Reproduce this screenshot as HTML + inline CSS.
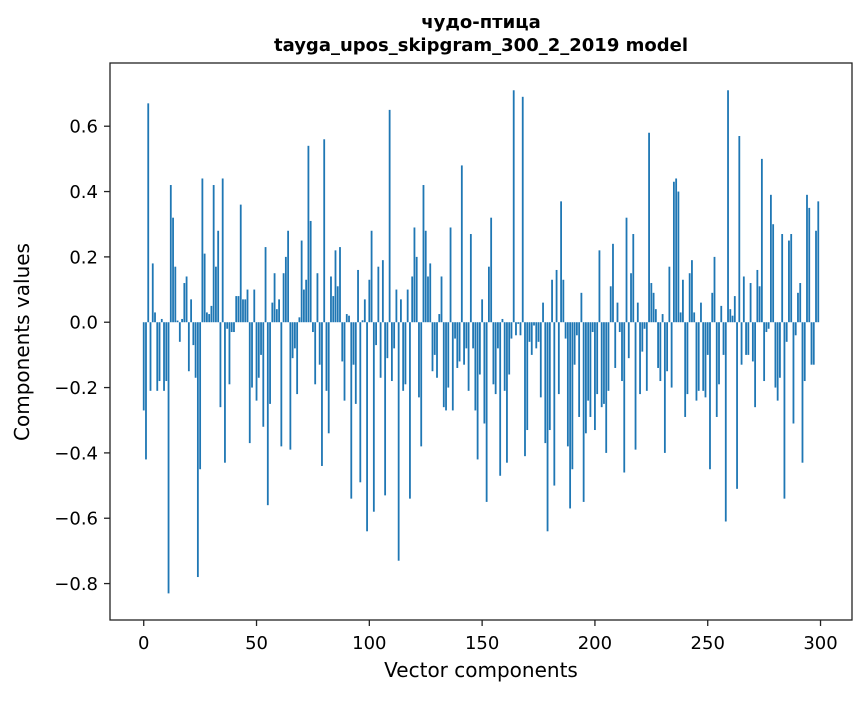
<!DOCTYPE html>
<html><head><meta charset="utf-8"><style>
body{margin:0;background:#fff}
svg{font-family:"DejaVu Sans","Liberation Sans",sans-serif}
</style></head><body>
<svg id="chart" width="867" height="696" viewBox="0 0 867 696" xmlns="http://www.w3.org/2000/svg">
<rect width="867" height="696" fill="#fff"/>
<text x="481" y="28" text-anchor="middle" font-size="18" font-weight="bold">чудо-птица</text>
<text x="481" y="51" text-anchor="middle" font-size="18" font-weight="bold">tayga_upos_skipgram_300_2_2019 model</text>
<g id="bars"></g>
<rect x="110" y="63" width="742" height="557" fill="none" stroke="#222" stroke-width="1.3"/>
<g id="xticks"></g>
<g id="yticks"></g>
<text x="481" y="677" text-anchor="middle" font-size="20">Vector components</text>
<text transform="translate(29,342) rotate(-90)" text-anchor="middle" font-size="20">Components values</text>
</svg>
<script>
const values = [
-0.27,-0.42,0.67,-0.21,0.18,0.03,-0.21,-0.18,0.01,-0.21,
-0.18,-0.83,0.42,0.32,0.17,0.005,-0.06,0.01,0.12,0.14,
-0.15,0.07,-0.07,-0.17,-0.78,-0.45,0.44,0.21,0.03,0.025,
0.05,0.42,0.17,0.28,-0.26,0.44,-0.43,-0.02,-0.19,-0.03,
-0.03,0.08,0.08,0.36,0.07,0.07,0.10,-0.37,-0.20,0.10,
-0.24,-0.17,-0.10,-0.32,0.23,-0.56,-0.25,0.06,0.15,0.04,
0.07,-0.38,0.15,0.20,0.28,-0.39,-0.11,-0.08,-0.22,0.015,
0.25,0.10,0.13,0.54,0.31,-0.03,-0.19,0.15,-0.13,-0.44,
0.56,-0.21,-0.34,0.14,0.08,0.22,0.11,0.23,-0.12,-0.24,
0.025,0.02,-0.54,-0.13,-0.25,0.16,-0.49,0.006,0.07,-0.64,
0.13,0.28,-0.58,-0.07,0.17,-0.17,0.19,-0.53,-0.11,0.65,
-0.18,-0.08,0.10,-0.73,0.07,-0.21,-0.19,0.10,-0.54,0.14,
0.29,0.20,-0.23,-0.38,0.42,0.28,0.14,0.18,-0.15,-0.10,
-0.17,0.025,0.14,-0.26,-0.27,-0.20,0.29,-0.27,-0.05,-0.14,
-0.12,0.48,-0.13,-0.08,-0.21,0.27,-0.08,-0.27,-0.42,-0.16,
0.07,-0.31,-0.55,0.17,0.32,-0.19,-0.22,-0.08,-0.47,0.01,
-0.21,-0.43,-0.16,-0.05,0.71,-0.04,-0.005,-0.04,0.69,-0.41,
-0.33,-0.06,-0.10,-0.01,-0.08,-0.06,-0.23,0.06,-0.37,-0.64,
-0.33,0.13,-0.50,0.16,-0.22,0.37,0.13,-0.05,-0.38,-0.57,
-0.45,-0.13,-0.04,-0.29,0.09,-0.55,-0.34,-0.24,-0.29,-0.03,
-0.33,-0.22,0.22,-0.26,-0.25,-0.40,-0.21,0.11,0.24,-0.14,
0.06,-0.03,-0.18,-0.46,0.32,-0.11,0.15,0.27,-0.39,0.06,
-0.22,-0.09,-0.02,-0.21,0.58,0.12,0.09,0.04,-0.14,-0.18,
0.025,-0.40,-0.15,0.17,-0.20,0.43,0.44,0.40,0.03,0.13,
-0.29,-0.22,0.15,0.19,0.03,-0.24,-0.21,0.06,-0.21,-0.23,
-0.10,-0.45,0.09,0.20,-0.29,-0.19,0.05,-0.10,-0.61,0.71,
0.04,0.02,0.08,-0.51,0.57,-0.13,0.14,-0.10,-0.10,0.12,
-0.12,-0.26,0.16,0.11,0.50,-0.18,-0.03,-0.02,0.39,0.30,
-0.20,-0.24,-0.17,0.27,-0.54,-0.06,0.25,0.27,-0.31,-0.04,
0.09,0.12,-0.43,-0.18,0.39,0.35,-0.13,-0.13,0.28,0.37];
const xTicks = [0,50,100,150,200,250,300];
const yTicks = [-0.8,-0.6,-0.4,-0.2,0.0,0.2,0.4,0.6];
const yTickLabels = ["\u22120.8","\u22120.6","\u22120.4","\u22120.2","0.0","0.2","0.4","0.6"];

const NS="http://www.w3.org/2000/svg";
const L=110,R=852,T=63,B=620;
const xMin=-14.95,xMax=313.95,yMin=-0.9115,yMax=0.7935;
const xs=v=>L+(v-xMin)/(xMax-xMin)*(R-L);
const ys=v=>T+(yMax-v)/(yMax-yMin)*(B-T);
const bars=document.getElementById('bars');
values.forEach((v,i)=>{
  const r=document.createElementNS(NS,'rect');
  const x0=xs(i-0.4),x1=xs(i+0.4);
  const y0=ys(Math.max(v,0)),y1=ys(Math.min(v,0));
  r.setAttribute('x',x0);r.setAttribute('width',x1-x0);
  r.setAttribute('y',y0);r.setAttribute('height',Math.max(y1-y0,0.3));
  r.setAttribute('fill','#1f77b4');
  
  
  bars.appendChild(r);
});
const xg=document.getElementById('xticks');
xTicks.forEach(t=>{
  const x=xs(t);
  const l=document.createElementNS(NS,'line');
  l.setAttribute('x1',x);l.setAttribute('x2',x);l.setAttribute('y1',B);l.setAttribute('y2',B+6);
  l.setAttribute('stroke','#222');l.setAttribute('stroke-width','1.3');
  
  
  xg.appendChild(l);
  const tx=document.createElementNS(NS,'text');
  tx.setAttribute('x',x);tx.setAttribute('y',B+29);tx.setAttribute('text-anchor','middle');tx.setAttribute('font-size','18');
  tx.textContent=t;
  
  
  xg.appendChild(tx);
});
const yg=document.getElementById('yticks');
yTicks.forEach((t,i)=>{
  const y=ys(t);
  const l=document.createElementNS(NS,'line');
  l.setAttribute('x1',L-6);l.setAttribute('x2',L);l.setAttribute('y1',y);l.setAttribute('y2',y);
  l.setAttribute('stroke','#222');l.setAttribute('stroke-width','1.3');
  
  
  yg.appendChild(l);
  const tx=document.createElementNS(NS,'text');
  tx.setAttribute('x',L-12);tx.setAttribute('y',y+6.5);tx.setAttribute('text-anchor','end');tx.setAttribute('font-size','18');
  tx.textContent=yTickLabels[i];
  
  
  yg.appendChild(tx);
});
</script>
</body></html>
